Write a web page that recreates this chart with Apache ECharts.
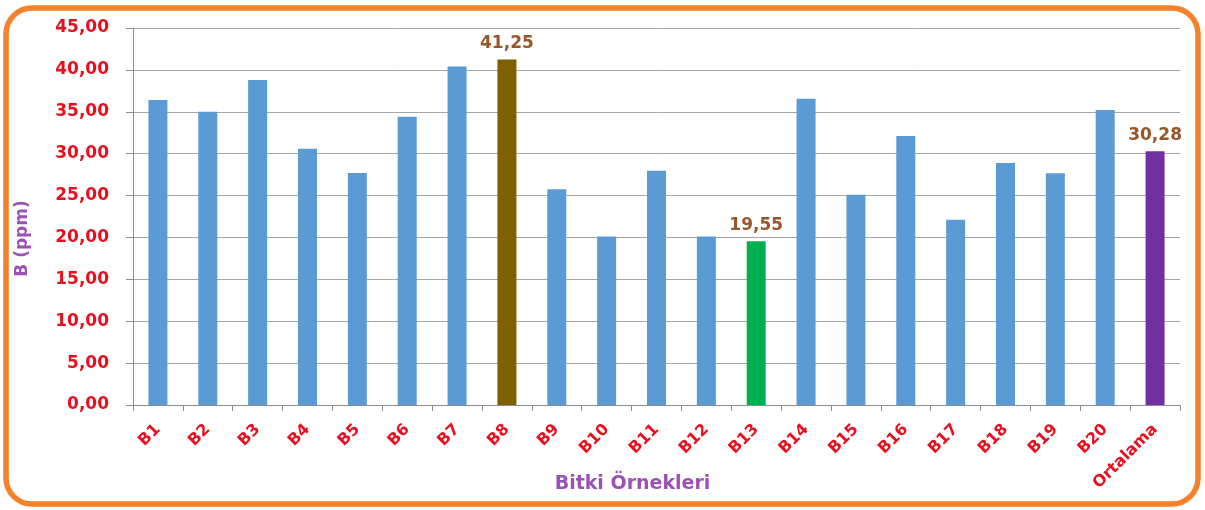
<!DOCTYPE html>
<html lang="tr">
  <head>
    <meta charset="UTF-8" />
    <title>B (ppm)</title>
    <style>
      body, html {
        margin: 0;
        width: 100%;
        height: 100%;
        background: #fff;
      }
    </style>
  </head>
  <body>
    <div id="main" style="width:1205px;height:510px;"></div>

    <script src="https://cdn.jsdelivr.net/npm/echarts@6/dist/echarts.min.js"></script>
    <script>
      const categories = ['B1', 'B2', 'B3', 'B4', 'B5', 'B6', 'B7', 'B8', 'B9', 'B10',
        'B11', 'B12', 'B13', 'B14', 'B15', 'B16', 'B17', 'B18', 'B19', 'B20', 'Ortalama'];
      const values = [36.4, 35.0, 38.8, 30.6, 27.7, 34.4, 40.4, 41.25, 25.75, 20.1,
        27.97, 20.1, 19.55, 36.56, 25.1, 32.1, 22.1, 28.9, 27.65, 35.2, 30.28];
      // bars that are coloured and labelled on their own
      const highlights = {
        B8: '#7F6000',
        B13: '#00B050',
        Ortalama: '#7030A0',
      };

      const fmt = v => v.toFixed(2).replace('.', ',');

      const chart = echarts.init(document.getElementById('main'));

      const option = {
        animation: false,
        textStyle: { fontFamily: 'DejaVu Sans' },
        grid: {
          left: 133,
          right: 25,
          top: 28,
          bottom: 105,
          containLabel: false,
          outerBoundsMode: 'none',
        },
        graphic: [
          {
            type: 'rect',
            shape: { x: 6, y: 8, width: 1192, height: 496, r: 26 },
            style: { fill: 'none', stroke: '#F5822A', lineWidth: 5.5 },
            z: 100,
          },
        ],
        xAxis: {
          type: 'category',
          data: categories,
          name: 'Bitki Örnekleri',
          nameLocation: 'middle',
          nameGap: 70,
          nameMoveOverlap: false,
          nameTextStyle: {
            color: '#9B52B5',
            fontWeight: 'bold',
            fontSize: 19,
            padding: [0, 48, 0, 0],
          },
          axisLine: { lineStyle: { color: '#8c8c8c' } },
          axisTick: { show: true, alignWithLabel: false, length: 6, lineStyle: { color: '#8c8c8c' } },
          axisLabel: {
            interval: 0,
            rotate: 45,
            margin: 22,
            color: '#E8101E',
            fontWeight: 'bold',
            fontSize: 16,
          },
        },
        yAxis: {
          type: 'value',
          min: 0,
          max: 45,
          interval: 5,
          name: 'B (ppm)',
          nameLocation: 'middle',
          nameGap: 102,
          nameMoveOverlap: false,
          nameTextStyle: {
            color: '#9B52B5',
            fontWeight: 'bold',
            fontSize: 17,
            padding: [0, 44, 0, 0],
          },
          axisLine: { show: true, lineStyle: { color: '#8c8c8c' } },
          axisTick: { show: true, length: 7, lineStyle: { color: '#8c8c8c' } },
          splitLine: { lineStyle: { color: '#a6a6a6' } },
          axisLabel: {
            margin: 24,
            color: '#E8101E',
            fontWeight: 'bold',
            fontSize: 17,
            formatter: fmt,
          },
        },
        series: [
          {
            type: 'bar',
            barWidth: 19,
            data: values.map((v, i) => {
              const c = highlights[categories[i]];
              const item = { value: v, itemStyle: { color: c || '#5B9BD5' } };
              if (c) {
                item.label = {
                  show: true,
                  position: 'top',
                  distance: 7,
                  color: '#9A5528',
                  fontWeight: 'bold',
                  fontSize: 17,
                  formatter: p => fmt(p.value),
                };
              }
              return item;
            }),
          },
        ],
      };

      chart.setOption(option);
    </script>
  </body>
</html>
